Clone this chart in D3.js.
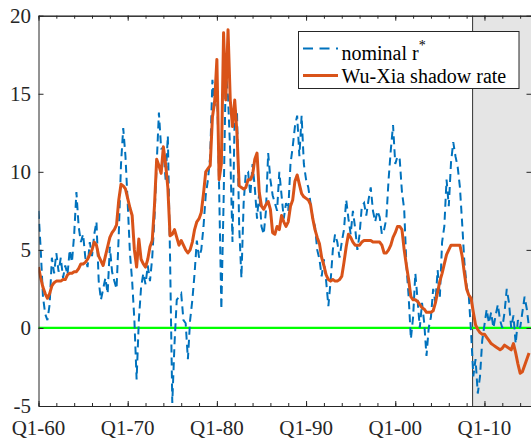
<!DOCTYPE html>
<html><head><meta charset="utf-8">
<script src="https://cdn.jsdelivr.net/npm/d3@7"></script>
<style>html,body{margin:0;padding:0;background:#fff;} svg{display:block;}</style>
</head><body>
<svg id="chart" width="531" height="439"></svg>
<script>
// Quarterly data, first value = Q1-1960
const startYear = 1960;
const nominalRStar = [
  7.5, 5.0, 2.0, 0.9,   // 1960
  0.5, 1.5, 4.5, 3.5,   // 1961
  4.8, 3.6, 4.5, 3.2,   // 1962
  4.0, 3.4, 5.0, 4.2,   // 1963
  6.0, 8.7, 6.5, 5.5,   // 1964
  6.0, 4.5, 3.9, 5.5,   // 1965
  4.6, 6.0, 6.8, 3.0,   // 1966
  1.8, 2.5, 3.2, 2.2,   // 1967
  5.2, 3.6, 3.0, 2.5,   // 1968
  6.0, 10.5, 12.8, 11.0,// 1969
  8.0, 4.8, 3.0, 0.5,   // 1970
  -3.3, 0.5, 2.6, 3.5,  // 1971
  2.8, 4.0, 3.0, 4.5,   // 1972
  7.0, 10.5, 13.8, 11.5,// 1973
  11.5, 9.5, 12.3, 4.5, // 1974
  -4.8, -1.0, 1.8, 2.0, // 1975
  2.2, 0.5, 0.3, -2.0,  // 1976
  0.5, 1.8, 3.5, 5.6,   // 1977
  4.5, 5.0, 6.5, 8.5,   // 1978
  9.5, 11.0, 15.9, 14.2,// 1979
  16.2, 9.0, 1.2, 8.0,  // 1980
  16.5, 14.8, 11.2, 5.5,// 1981
  13.8, 14.0, 6.5, 3.2, // 1982
  8.0, 10.0, 10.0, 8.5, // 1983
  10.5, 9.0, 7.0, 8.7,  // 1984
  6.5, 6.0, 7.5, 11.2,  // 1985
  9.5, 8.5, 8.0, 7.5,   // 1986
  10.0, 8.5, 7.0, 8.0,  // 1987
  7.5, 10.5, 11.6, 12.9,// 1988
  13.6, 11.0, 13.6, 10.5,// 1989
  9.5, 9.0, 8.0, 7.0,   // 1990
  6.5, 5.0, 4.4, 3.3,   // 1991
  4.4, 3.0, 1.4, 3.0,   // 1992
  5.0, 6.0, 5.5, 4.5,   // 1993
  5.5, 6.3, 8.2, 7.0,   // 1994
  6.0, 7.5, 6.4, 5.0,   // 1995
  6.0, 7.8, 8.0, 7.2,   // 1996
  8.2, 9.0, 7.5, 6.8,   // 1997
  7.5, 7.1, 6.0, 6.3,   // 1998
  7.0, 9.5, 11.4, 13.0, // 1999
  10.5, 11.0, 10.8, 8.7,// 2000
  7.6, 4.0, 2.0, -0.7,  // 2001
  0.7, 3.5, 1.8, 0.0,   // 2002
  1.6, 0.3, -1.8, 0.0,  // 2003
  0.7, 2.5, 1.6, 3.7,   // 2004
  2.0, 5.5, 6.5, 9.5,   // 2005
  7.8, 10.6, 11.9, 11.0,// 2006
  10.3, 9.0, 6.7, 4.2,  // 2007
  2.7, 2.0, -0.3, -3.1, // 2008
  -2.0, -4.2, -3.1, -0.8,// 2009
  0.2, 1.2, 0.3, 1.0,   // 2010
  0.0, 0.8, 1.5, 0.5,   // 2011
  0.0, 1.0, 2.5, 1.6,   // 2012
  0.0, 0.8, -1.0, 0.5,  // 2013
  0.0, 1.0, 2.0, 1.2,   // 2014
  0.0                   // 2015
];
const wuXiaShadowRate = [
  3.9, 3.2, 2.6, 2.2,   // 1960
  1.9, 2.2, 2.7, 2.9,   // 1961
  3.0, 3.0, 3.0, 3.1,   // 1962
  3.1, 3.4, 3.5, 3.5,   // 1963
  3.6, 3.6, 3.8, 4.1,   // 1964
  4.1, 4.2, 4.4, 4.7,   // 1965
  5.0, 5.5, 5.3, 4.6,   // 1966
  4.3, 4.0, 4.6, 5.2,   // 1967
  5.8, 6.1, 6.3, 6.6,   // 1968
  8.2, 9.2, 9.1, 8.9,   // 1969
  8.3, 7.7, 7.2, 5.0,   // 1970
  3.9, 5.7, 4.4, 4.1,   // 1971
  3.9, 4.4, 5.2, 5.6,   // 1972
  7.8, 10.8, 10.4, 9.9, // 1973
  11.6, 10.5, 9.0, 5.9, // 1974
  6.0, 6.3, 5.8, 5.3,   // 1975
  5.6, 5.3, 5.0, 4.8,   // 1976
  5.0, 5.5, 6.3, 6.8,   // 1977
  7.0, 7.4, 8.6, 10.0,  // 1978
  10.2, 10.4, 13.5, 14.5,// 1979
  17.2, 9.5, 10.5, 18.9,// 1980
  14.6, 19.1, 14.6, 12.9,// 1981
  14.6, 12.5, 9.1, 9.0, // 1982
  8.9, 9.0, 9.5, 9.5,   // 1983
  9.8, 10.8, 11.2, 8.7, // 1984
  7.8, 7.6, 7.9, 8.1,   // 1985
  7.6, 6.1, 6.0, 6.5,   // 1986
  6.3, 7.2, 6.8, 6.5,   // 1987
  6.8, 7.8, 8.2, 9.4,   // 1988
  9.8, 9.2, 8.6, 8.4,   // 1989
  8.3, 8.2, 7.9, 7.0,   // 1990
  6.3, 5.8, 5.4, 4.5,   // 1991
  4.0, 3.4, 3.1, 3.0,   // 1992
  3.1, 3.0, 3.0, 3.1,   // 1993
  3.3, 4.2, 5.2, 6.0,   // 1994
  5.8, 5.5, 5.3, 5.3,   // 1995
  5.3, 5.5, 5.6, 5.6,   // 1996
  5.6, 5.6, 5.5, 5.5,   // 1997
  5.5, 5.5, 5.3, 4.8,   // 1998
  4.8, 5.0, 5.3, 5.8,   // 1999
  6.1, 6.5, 6.5, 6.3,   // 2000
  5.0, 4.0, 3.1, 2.0,   // 2001
  1.8, 1.8, 1.7, 1.5,   // 2002
  1.3, 1.2, 1.0, 1.0,   // 2003
  1.0, 1.1, 1.6, 2.3,   // 2004
  3.0, 3.5, 4.1, 4.7,   // 2005
  5.0, 5.3, 5.3, 5.3,   // 2006
  5.3, 5.3, 4.6, 3.5,   // 2007
  2.5, 2.1, 1.9, 1.0,   // 2008
  0.2, -0.1, -0.3, -0.4,// 2009
  -0.4, -0.6, -0.8, -1.0,// 2010
  -1.1, -1.2, -1.3, -1.4,// 2011
  -1.3, -1.1, -1.2, -1.3,// 2012
  -1.4, -1.0, -1.6, -2.3,// 2013
  -2.9, -2.8, -2.4, -2.0,// 2014
  -1.6                  // 2015
];
const yTickValues = [-5, 0, 5, 10, 15, 20];
const xMinorTickYears = [1960,1962,1964,1966,1968,1970,1972,1974,1976,1978,1980,1982,1984,1986,1988,1990,1992,1994,1996,1998,2000,2002,2004,2006,2008,2010,2012,2014];
const xLabelYears = [1960, 1970, 1980, 1990, 2000, 2010];
const xTickLabels = ["Q1-60", "Q1-70", "Q1-80", "Q1-90", "Q1-00", "Q1-10"];
const shadedFromYear = 2008.67;
const seriesNames = ["nominal r", "Wu-Xia shadow rate"];

const plot = {left: 38.5, right: 532, top: 15.7, bottom: 406};
const x = d3.scaleLinear().domain([1960, 2015.33]).range([plot.left, plot.right]);
const y = d3.scaleLinear().domain([-5, 20]).range([plot.bottom, plot.top]);
const FONT = '"Liberation Serif", monospace';
const axisColor = "#262626";
const blue = "#0072BD", orange = "#D95319";

const svg = d3.select("#chart");
svg.append("rect").attr("width", 531).attr("height", 439).attr("fill", "#fff");

svg.append("defs").append("clipPath").attr("id", "clip")
  .append("rect").attr("x", plot.left).attr("y", plot.top)
  .attr("width", plot.right - plot.left).attr("height", plot.bottom - plot.top);

// shaded region
svg.append("rect")
  .attr("x", x(shadedFromYear)).attr("y", plot.top)
  .attr("width", plot.right - x(shadedFromYear)).attr("height", plot.bottom - plot.top)
  .attr("fill", "#e5e5e5");
svg.append("line")
  .attr("x1", x(shadedFromYear)).attr("x2", x(shadedFromYear))
  .attr("y1", plot.top).attr("y2", plot.bottom)
  .attr("stroke", "#333").attr("stroke-width", 1);

// zero line
svg.append("line")
  .attr("x1", plot.left).attr("x2", plot.right)
  .attr("y1", y(0)).attr("y2", y(0))
  .attr("stroke", "#00FF00").attr("stroke-width", 2.2);

const dateOf = i => startYear + i / 4;
const line = d3.line().x((d, i) => x(dateOf(i))).y(d => y(d));
const g = svg.append("g").attr("clip-path", "url(#clip)");
g.append("path").datum(nominalRStar).attr("d", line)
  .attr("fill", "none").attr("stroke", blue).attr("stroke-width", 2)
  .attr("stroke-dasharray", "8,5");
g.append("path").datum(wuXiaShadowRate).attr("d", line)
  .attr("fill", "none").attr("stroke", orange).attr("stroke-width", 3)
  .attr("stroke-linejoin", "round");

// axes (ticks inward)
function styleAxis(sel) {
  sel.selectAll("path.domain").attr("stroke", axisColor).attr("stroke-width", 1);
  sel.selectAll(".tick line").attr("stroke", axisColor).attr("stroke-width", 1);
  sel.selectAll("text").remove();
}
svg.append("g").attr("transform", `translate(0,${plot.bottom})`)
  .call(d3.axisBottom(x).tickValues(xMinorTickYears).tickSize(-3).tickSizeOuter(0)).call(styleAxis);
svg.append("g").attr("transform", `translate(0,${plot.bottom})`)
  .call(d3.axisBottom(x).tickValues(xLabelYears).tickSize(-5).tickSizeOuter(0)).call(styleAxis);
svg.append("g").attr("transform", `translate(0,${plot.top})`)
  .call(d3.axisTop(x).tickValues(xMinorTickYears).tickSize(-3).tickSizeOuter(0)).call(styleAxis);
svg.append("g").attr("transform", `translate(0,${plot.top})`)
  .call(d3.axisTop(x).tickValues(xLabelYears).tickSize(-5).tickSizeOuter(0)).call(styleAxis);
svg.append("g").attr("transform", `translate(${plot.left},0)`)
  .call(d3.axisLeft(y).tickValues(yTickValues).tickSize(-5).tickSizeOuter(0)).call(styleAxis);
svg.append("g").attr("transform", `translate(${plot.right - 0.5},0)`)
  .call(d3.axisRight(y).tickValues(yTickValues).tickSize(-5).tickSizeOuter(0)).call(styleAxis);

// tick labels
svg.append("g").selectAll("text").data(yTickValues).join("text")
  .attr("x", 31).attr("y", d => y(d) + 7.4)
  .attr("text-anchor", "end").style("font-family", FONT).attr("font-size", 21)
  .attr("fill", axisColor).text(d => d);
svg.append("g").selectAll("text").data(xLabelYears).join("text")
  .attr("x", d => x(d)).attr("y", 435)
  .attr("text-anchor", "middle").style("font-family", FONT).attr("font-size", 21)
  .attr("fill", axisColor).text((d, i) => xTickLabels[i]);

// legend
const lg = svg.append("g");
lg.append("rect").attr("x", 298.5).attr("y", 31.5).attr("width", 220.5).attr("height", 57)
  .attr("fill", "#fff").attr("stroke", axisColor).attr("stroke-width", 1);
lg.append("line").attr("x1", 303).attr("x2", 338).attr("y1", 48.5).attr("y2", 48.5)
  .attr("stroke", blue).attr("stroke-width", 2).attr("stroke-dasharray", "10,6.5");
lg.append("line").attr("x1", 303).attr("x2", 338).attr("y1", 75.5).attr("y2", 75.5)
  .attr("stroke", orange).attr("stroke-width", 3);
const t1 = lg.append("text").attr("x", 341.5).attr("y", 60)
  .style("font-family", FONT).attr("font-size", 20).attr("fill", "#000");
t1.append("tspan").text(seriesNames[0]);
t1.append("tspan").attr("dy", -10).attr("font-size", 14).text("*");
lg.append("text").attr("x", 341.5).attr("y", 82.5)
  .style("font-family", FONT).attr("font-size", 20).attr("fill", "#000")
  .text(seriesNames[1]);
</script>
</body></html>
